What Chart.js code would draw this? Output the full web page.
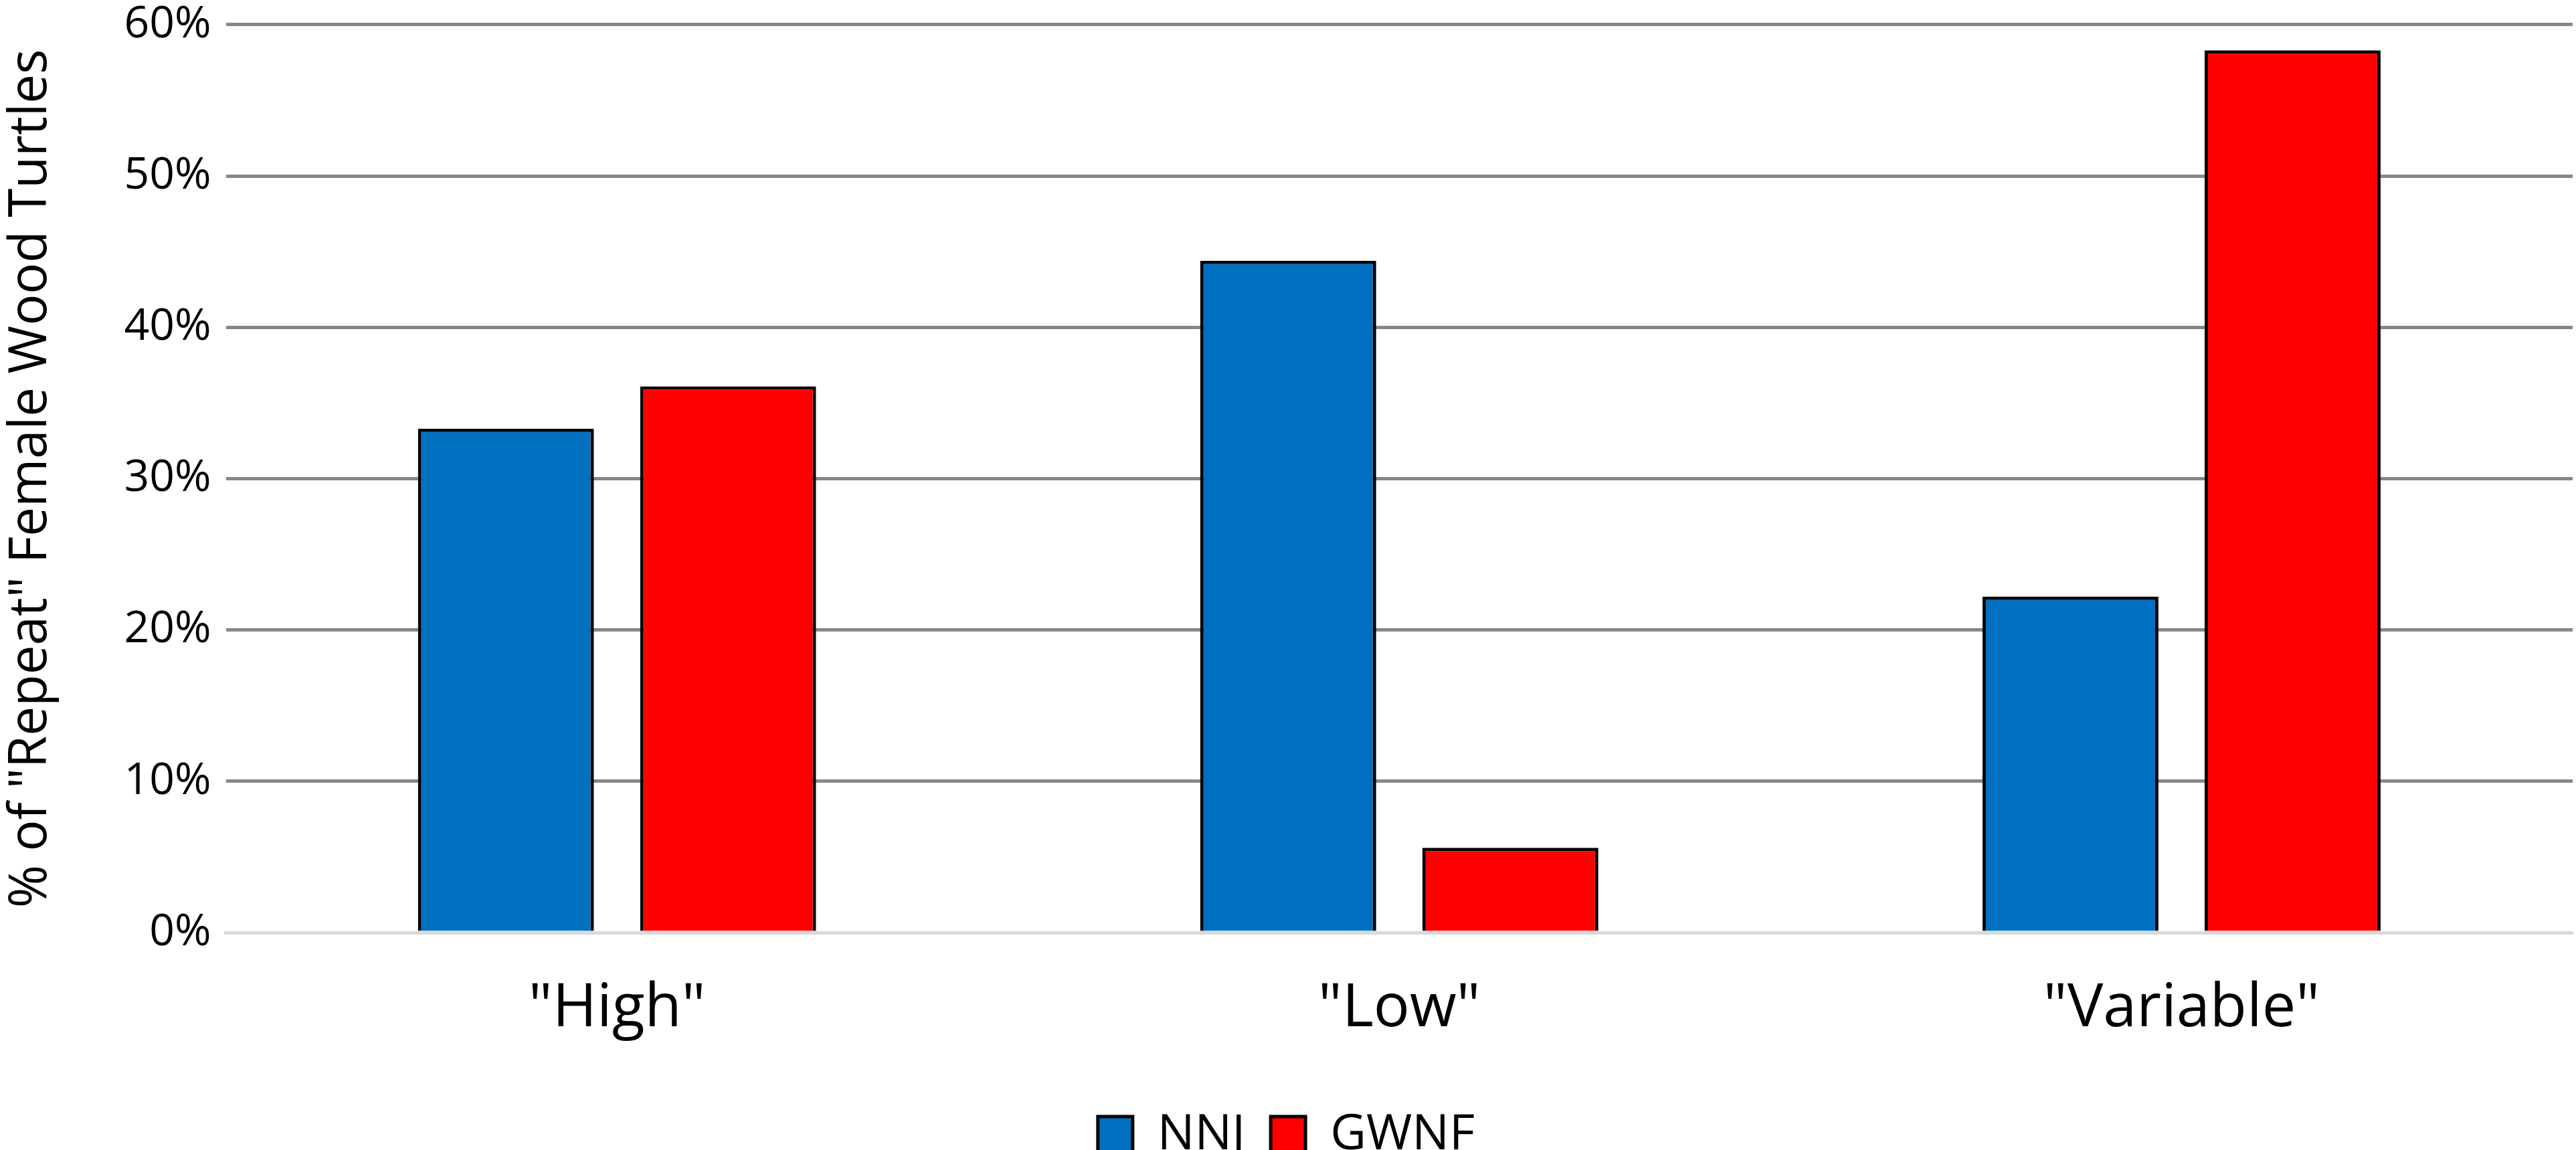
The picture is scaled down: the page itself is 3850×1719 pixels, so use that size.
<!DOCTYPE html>
<html>
<head>
<meta charset="utf-8">
<script src="https://cdn.jsdelivr.net/npm/chart.js@4.4.0/dist/chart.umd.min.js"></script>
<style>
  html, body { margin: 0; padding: 0; background: #ffffff; }
  #wrap { width: 3850px; height: 1719px; }
</style>
</head>
<body>
<div id="wrap"><canvas id="chart0"></canvas></div>
<script>
// categories and series (percent of "repeat" females)
var categories = ['"High"', '"Low"', '"Variable"'];
var seriesNames = ['NNJ', 'GWNF'];
var nnjValues  = [33.3, 44.4, 22.2];
var gwnfValues = [36.1, 5.6, 58.3];
var yTicks = [0, 10, 20, 30, 40, 50, 60];

var FONT = "'Open Sans', 'Noto Sans', sans-serif";

Chart.defaults.font.family = FONT;
Chart.defaults.color = '#000000';

var chart = new Chart(document.getElementById('chart0'), {
    type: 'bar',
    data: {
        labels: categories,
        datasets: [
            {
                label: seriesNames[0],
                backgroundColor: '#0070c0',
                borderColor: '#000000',
                borderWidth: 5,
                data: nnjValues
            },{
                label: seriesNames[1],
                backgroundColor: '#ff0000',
                borderColor: '#000000',
                borderWidth: 5,
                data: gwnfValues
            }
        ]
    },
    options: {
        responsive: true,
        maintainAspectRatio: false,
        animation: false,
        devicePixelRatio: 1,
        categoryPercentage: 0.568,
        barPercentage: 0.792,
        layout: { padding: { left: 0, right: 5, top: 0, bottom: -25 } },
        plugins: {
            legend: {
                display: true,
                position: 'bottom',
                labels: {
                    boxWidth: 52,
                    boxHeight: 56,
                    padding: 38,
                    font: { size: 74, family: FONT },
                    color: '#000000'
                }
            },
            tooltip: { enabled: false }
        },
        scales: {
            x: {
                grid: { display: false, drawTicks: false },
                border: { display: true, color: '#d9d9d9', width: 5 },
                ticks: {
                    padding: 60,
                    font: { size: 90, family: FONT },
                    color: '#000000'
                }
            },
            y: {
                min: 0,
                max: 60,
                afterBuildTicks: function(axis) {
                    axis.ticks = yTicks.map(function(v) { return { value: v }; });
                },
                grid: {
                    color: function(ctx) { return ctx.tick && ctx.tick.value === 0 ? '#d9d9d9' : '#878787'; },
                    lineWidth: 5,
                    drawTicks: false
                },
                border: { display: false },
                ticks: {
                    padding: 22,
                    font: { size: 66, family: FONT, lineHeight: 0.45 },
                    color: '#000000',
                    callback: function(v) { return v + '%'; }
                },
                title: {
                    display: true,
                    text: '% of "Repeat" Female Wood Turtles',
                    font: { size: 78, family: FONT },
                    color: '#000000',
                    padding: { top: 0, bottom: 70 }
                }
            }
        }
    }
});
</script>
</body>
</html>
